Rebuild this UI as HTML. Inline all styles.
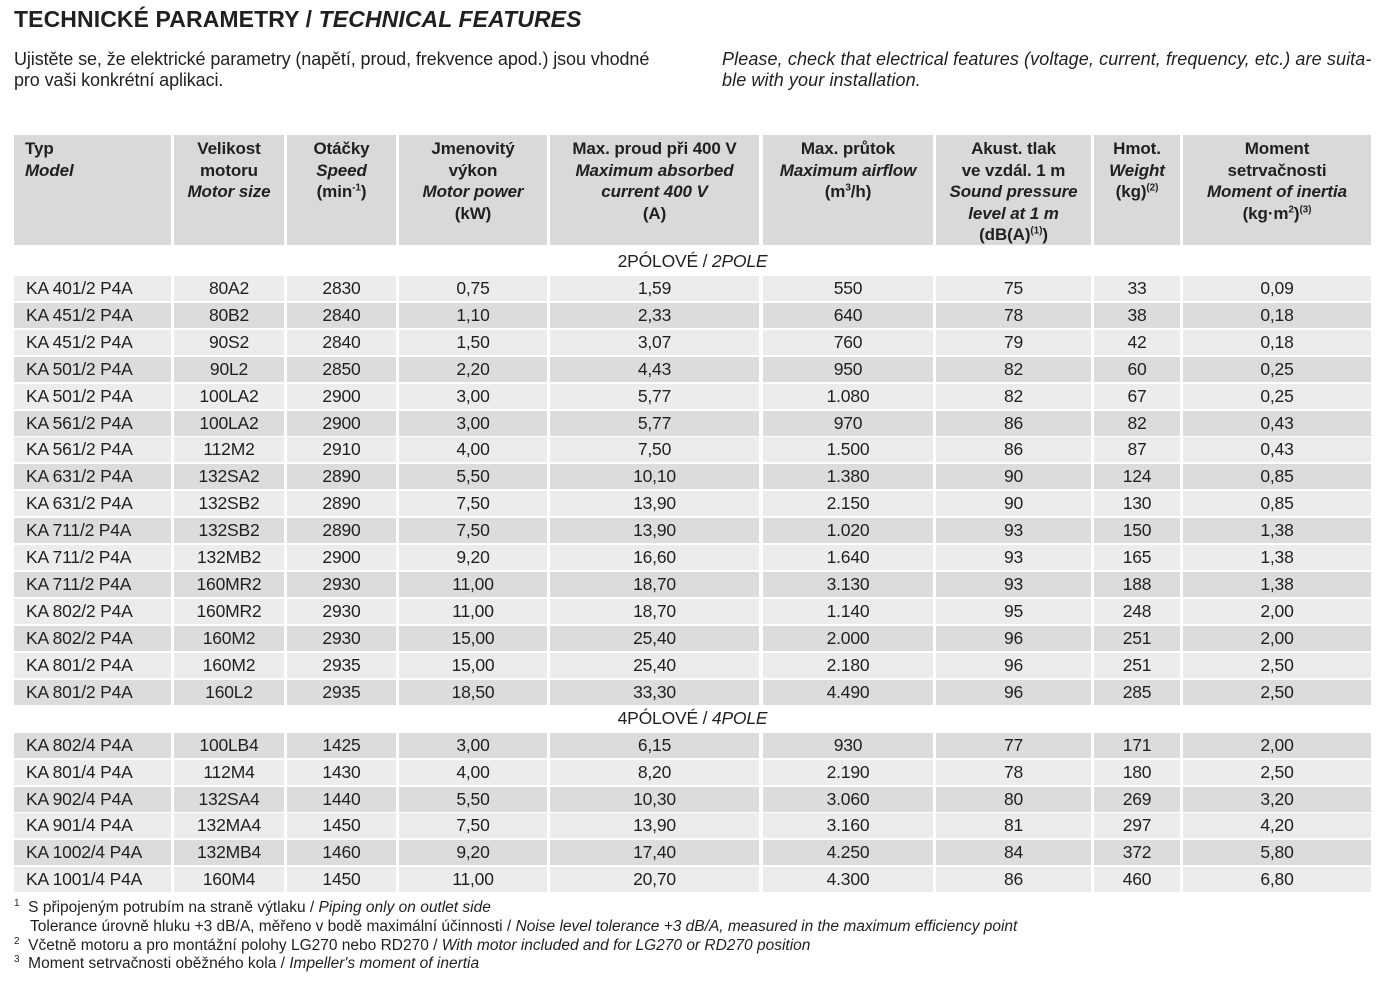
<!DOCTYPE html>
<html><head><meta charset="utf-8">
<style>
body{margin:0;width:1381px;height:984px;background:#fff;font-family:"Liberation Sans",sans-serif;color:#231f20;position:relative;overflow:hidden}
.a{position:absolute;white-space:nowrap}
.title{left:14px;top:6px;font-size:23px;font-weight:bold;letter-spacing:0.1px}
.intro{font-size:18px;line-height:21px;letter-spacing:-0.1px}
.cell{position:absolute;display:flex;align-items:center;justify-content:center;font-size:17.5px;letter-spacing:-0.2px}
.hd{position:absolute;background:#d9d9d9;top:135px;height:110px;font-size:17px;font-weight:bold;line-height:21.5px;text-align:center;letter-spacing:-0.1px;padding-top:3px;box-sizing:border-box}
.sec{position:absolute;left:14px;width:1357px;text-align:center;font-size:17.5px;letter-spacing:-0.2px}
.fn{left:14px;font-size:15.5px;letter-spacing:0px}
sup{font-size:10px;line-height:0}
</style></head><body>
<div class="a title">TECHNICKÉ PARAMETRY / <i>TECHNICAL FEATURES</i></div>
<div class="a intro" style="left:14px;top:49px">Ujistěte se, že elektrické parametry (napětí, proud, frekvence apod.) jsou vhodné<br>pro vaši konkrétní aplikaci.</div>
<div class="a intro" style="left:722px;top:49px;font-style:italic;letter-spacing:0.1px">Please, check that electrical features (voltage, current, frequency, etc.) are suita-<br>ble with your installation.</div>
<div id="tbl"></div>
<div class="sec" style="top:251px">2PÓLOVÉ / <i>2POLE</i></div>
<div class="sec" style="top:708px">4PÓLOVÉ / <i>4POLE</i></div>
<div class="a fn" style="top:899px"><sup>1</sup>&nbsp; S připojeným potrubím na straně výtlaku / <i>Piping only on outlet side</i></div>
<div class="a fn" style="top:918px;left:30px">Tolerance úrovně hluku +3 dB/A, měřeno v bodě maximální účinnosti / <i>Noise level tolerance +3 dB/A, measured in the maximum efficiency point</i></div>
<div class="a fn" style="top:937px"><sup>2</sup>&nbsp; Včetně motoru a pro montážní polohy LG270 nebo RD270 / <i>With motor included and for LG270 or RD270 position</i></div>
<div class="a fn" style="top:955px"><sup>3</sup>&nbsp; Moment setrvačnosti oběžného kola / <i>Impeller's moment of inertia</i></div>
<script>
const colX=[14,174,287,399,550,763,936,1094,1183];
const colW=[157,110,109,148,209,170,155,86,188];
const headers=[
'<div style="text-align:left;padding-left:11px">Typ<br><i>Model</i></div>',
'Velikost<br>motoru<br><i>Motor size</i>',
'Otáčky<br><i>Speed</i><br>(min<sup>-1</sup>)',
'Jmenovitý<br>výkon<br><i>Motor power</i><br>(kW)',
'Max. proud při 400 V<br><i>Maximum absorbed<br>current 400 V</i><br>(A)',
'Max. průtok<br><i>Maximum airflow</i><br>(m<sup>3</sup>/h)',
'Akust. tlak<br>ve vzdál. 1 m<br><i>Sound pressure<br>level at 1 m</i><br>(dB(A)<sup>(1)</sup>)',
'Hmot.<br><i>Weight</i><br>(kg)<sup>(2)</sup>',
'Moment<br>setrvačnosti<br><i>Moment of inertia</i><br>(kg·m<sup>2</sup>)<sup>(3)</sup>'];
const rows2=[
["KA 401/2 P4A","80A2","2830","0,75","1,59","550","75","33","0,09"],
["KA 451/2 P4A","80B2","2840","1,10","2,33","640","78","38","0,18"],
["KA 451/2 P4A","90S2","2840","1,50","3,07","760","79","42","0,18"],
["KA 501/2 P4A","90L2","2850","2,20","4,43","950","82","60","0,25"],
["KA 501/2 P4A","100LA2","2900","3,00","5,77","1.080","82","67","0,25"],
["KA 561/2 P4A","100LA2","2900","3,00","5,77","970","86","82","0,43"],
["KA 561/2 P4A","112M2","2910","4,00","7,50","1.500","86","87","0,43"],
["KA 631/2 P4A","132SA2","2890","5,50","10,10","1.380","90","124","0,85"],
["KA 631/2 P4A","132SB2","2890","7,50","13,90","2.150","90","130","0,85"],
["KA 711/2 P4A","132SB2","2890","7,50","13,90","1.020","93","150","1,38"],
["KA 711/2 P4A","132MB2","2900","9,20","16,60","1.640","93","165","1,38"],
["KA 711/2 P4A","160MR2","2930","11,00","18,70","3.130","93","188","1,38"],
["KA 802/2 P4A","160MR2","2930","11,00","18,70","1.140","95","248","2,00"],
["KA 802/2 P4A","160M2","2930","15,00","25,40","2.000","96","251","2,00"],
["KA 801/2 P4A","160M2","2935","15,00","25,40","2.180","96","251","2,50"],
["KA 801/2 P4A","160L2","2935","18,50","33,30","4.490","96","285","2,50"]];
const rows4=[
["KA 802/4 P4A","100LB4","1425","3,00","6,15","930","77","171","2,00"],
["KA 801/4 P4A","112M4","1430","4,00","8,20","2.190","78","180","2,50"],
["KA 902/4 P4A","132SA4","1440","5,50","10,30","3.060","80","269","3,20"],
["KA 901/4 P4A","132MA4","1450","7,50","13,90","3.160","81","297","4,20"],
["KA 1002/4 P4A","132MB4","1460","9,20","17,40","4.250","84","372","5,80"],
["KA 1001/4 P4A","160M4","1450","11,00","20,70","4.300","86","460","6,80"]];
const t=document.getElementById('tbl');
headers.forEach((h,i)=>{
  const d=document.createElement('div');d.className='hd';
  d.style.left=colX[i]+'px';d.style.width=colW[i]+'px';d.innerHTML=h;
  if(i==0)d.style.textAlign='left';
  
  
  t.appendChild(d);
});
function draw(rows,top0,pitch,darkFirst){
  rows.forEach((r,ri)=>{
    const dark=(ri%2==0)===darkFirst;
    r.forEach((v,ci)=>{
      const c=document.createElement('div');c.className='cell';
      c.style.left=colX[ci]+'px';c.style.width=colW[ci]+'px';
      c.style.top=(top0+ri*pitch)+'px';c.style.height='25px';
      c.style.background=dark?'#dcdcdc':'#ececec';
      if(ci==0){c.style.justifyContent='flex-start';c.style.paddingLeft='12px';c.style.boxSizing='border-box';}
      c.textContent=v;
      
      
      t.appendChild(c);
    });
  });
}
draw(rows2,276,26.9,false);
draw(rows4,733,26.8,true);
</script>
</body></html>
